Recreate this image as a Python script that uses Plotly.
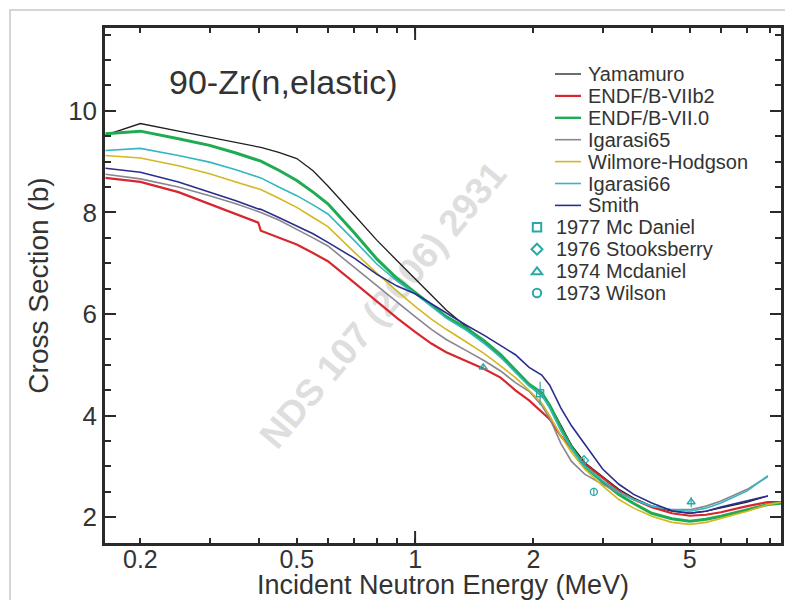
import plotly.graph_objects as go

# ---------------- data ----------------
energy = [0.163, 0.2, 0.25, 0.3, 0.35, 0.399, 0.405, 0.45, 0.5, 0.55, 0.6, 0.7, 0.8, 0.9,
          1.0, 1.1, 1.2, 1.35, 1.5, 1.65, 1.8, 1.95, 2.1, 2.2, 2.35, 2.5, 2.7, 3.0, 3.3,
          3.6, 4.0, 4.5, 5.0, 5.5, 6.0, 7.0, 7.9, 8.6]

yamamuro = [9.52, 9.75, 9.6, 9.48, 9.38, 9.29, 9.28, 9.18, 9.06, 8.82, 8.52, 7.95, 7.45, 7.05,
            6.7, 6.38, 6.08, 5.75, 5.45, 5.15, 4.88, 4.6, 4.38, 4.22, 3.8, 3.42, 3.08, 2.8, 2.55,
            2.38, 2.22, 2.12, 2.08, 2.12, 2.18, 2.3, 2.42, None]
endf_b7b2 = [8.68, 8.6, 8.4, 8.17, 7.98, 7.8, 7.64, 7.5, 7.37, 7.2, 7.04, 6.62, 6.25, 5.92,
             5.65, 5.42, 5.25, 5.07, 4.92, 4.75, 4.5, 4.3, 4.08, 3.93, 3.6, 3.35, 3.05, 2.78, 2.52,
             2.35, 2.2, 2.08, 2.03, 2.05, 2.1, 2.22, 2.3, 2.3]
endf_b70 = [9.55, 9.6, 9.45, 9.32, 9.17, 9.02, 9.01, 8.83, 8.63, 8.4, 8.17, 7.6, 7.08, 6.7,
            6.42, 6.18, 5.95, 5.72, 5.47, 5.2, 4.9, 4.62, 4.45, 4.2, 3.75, 3.38, 3.0, 2.7, 2.45,
            2.27, 2.08, 1.97, 1.92, 1.96, 2.02, 2.15, 2.25, 2.28]
igarasi65 = [8.75, 8.66, 8.5, 8.33, 8.17, 8.01, 8.0, 7.85, 7.67, 7.5, 7.34, 6.92, 6.55, 6.22,
             5.95, 5.7, 5.5, 5.28, 5.08, 4.88, 4.65, 4.48, 4.2, 3.95, 3.45, 3.1, 2.85, 2.65, 2.48,
             2.35, 2.22, 2.15, 2.15, 2.22, 2.32, 2.55, 2.8, None]
wilmore_hodgson = [9.12, 9.07, 8.92, 8.76, 8.6, 8.46, 8.45, 8.28, 8.1, 7.9, 7.72, 7.22, 6.8, 6.45,
                   6.15, 5.9, 5.7, 5.45, 5.22, 4.98, 4.75, 4.5, 4.25, 4.0, 3.6, 3.28, 2.95, 2.62, 2.35,
                   2.18, 2.02, 1.9, 1.86, 1.9, 1.98, 2.12, 2.25, 2.3]
igarasi66 = [9.22, 9.26, 9.12, 8.99, 8.84, 8.69, 8.68, 8.5, 8.33, 8.15, 7.97, 7.45, 6.98, 6.65,
             6.4, 6.15, 5.92, 5.68, 5.42, 5.15, 4.85, 4.58, 4.4, 4.15, 3.7, 3.35, 3.0, 2.72, 2.5,
             2.35, 2.22, 2.15, 2.12, 2.18, 2.28, 2.52, 2.82, None]
smith = [8.87, 8.79, 8.6, 8.4, 8.23, 8.07, 8.06, 7.9, 7.74, 7.58, 7.41, 7.1, 6.78, 6.55,
         6.4, 6.2, 6.02, 5.78, 5.58, 5.38, 5.2, 4.95, 4.8, 4.6, 4.15, 3.8, 3.45, 2.95, 2.65,
         2.45, 2.28, 2.13, 2.08, 2.12, 2.2, 2.32, 2.42, None]

series_names = ["Yamamuro", "ENDF/B-VIIb2", "ENDF/B-VII.0", "Igarasi65",
                "Wilmore-Hodgson", "Igarasi66", "Smith"]
series_values = [yamamuro, endf_b7b2, endf_b70, igarasi65, wilmore_hodgson, igarasi66, smith]

# experimental points: energy, cross section, error
exp_names = ["1977 Mc Daniel", "1976 Stooksberry", "1974 Mcdaniel", "1973 Wilson"]
exp_energy = [[2.08], [2.69], [1.49, 5.04], [2.85]]
exp_sigma = [[4.44], [3.12], [4.95, 2.3], [2.5]]
exp_error = [[0.23], [0.05], [0.04, 0.1], [0.08]]

x_tick_values = [0.2, 0.5, 1, 2, 5]
x_tick_labels = ["0.2", "0.5", "1", "2", "5"]
x_minor_values = [0.3, 0.4, 0.6, 0.7, 0.8, 0.9, 3, 4, 6, 7, 8]

# ---------------- style / geometry ----------------
W, H = 785, 600
ML, MR, MT, MB = 105, 4, 28, 57
PW, PH = W - ML - MR, H - MT - MB


def px(xpix):
    return (xpix - ML) / PW


def py(ypix):
    return (H - MB - ypix) / PH


line_styles = [
    dict(color="#1e1e1e", width=1.3),
    dict(color="#d8262e", width=2.2),
    dict(color="#1eab52", width=3.0),
    dict(color="#8a8590", width=1.6),
    dict(color="#d4b820", width=1.6),
    dict(color="#33b8bf", width=1.6),
    dict(color="#2b2d8c", width=1.6),
]
exp_symbols = ["square-open", "diamond-open", "triangle-up-open", "circle-open"]
exp_color = "#2aa8a8"
FONT = "Liberation Sans, Arial, Helvetica, sans-serif"
TXT = "#333333"
AX = "#2a2a2a"

fig = go.Figure()
for name, vals, st in zip(series_names, series_values, line_styles):
    fig.add_trace(go.Scatter(x=energy, y=vals, mode="lines", name=name, line=st,
                             connectgaps=False, showlegend=False))
for name, ex, ey, ee, sym in zip(exp_names, exp_energy, exp_sigma, exp_error, exp_symbols):
    fig.add_trace(go.Scatter(x=ex, y=ey, mode="markers", name=name, showlegend=False,
                             marker=dict(symbol=sym, size=7, color=exp_color,
                                         line=dict(width=1.4, color=exp_color)),
                             error_y=dict(type="data", array=ee, color=exp_color,
                                          thickness=1.2, width=0)))

axis_common = dict(showline=True, linecolor=AX, linewidth=2.5, mirror="ticks",
                   ticks="inside", tickcolor=AX, tickwidth=2, automargin=False,
                   showgrid=False, zeroline=False)

fig.update_layout(
    width=W, height=H,
    margin=dict(l=ML, r=MR, t=MT, b=MB, autoexpand=False),
    paper_bgcolor="white", plot_bgcolor="white",
    font=dict(family=FONT, color=TXT),
    showlegend=False,
    xaxis=dict(type="log", range=[-0.789, 0.931],
               tickvals=x_tick_values, ticktext=x_tick_labels, ticklen=5,
               ticklabelstandoff=-8,
               tickfont=dict(family=FONT, size=25, color=TXT),
               minor=dict(tickvals=x_minor_values, ticklen=5, tickwidth=2,
                          tickcolor=AX, ticks="inside"),
               title=dict(text="Incident Neutron Energy (MeV)",
                          font=dict(family=FONT, size=27, color=TXT), standoff=2),
               **axis_common),
    yaxis=dict(range=[1.494, 11.63], tick0=0, dtick=2, ticklen=11,
               tickfont=dict(family=FONT, size=26, color=TXT),
               minor=dict(dtick=0.5, ticklen=6, tickwidth=2, tickcolor=AX, ticks="inside"),
               title=dict(text="Cross Section (b)",
                          font=dict(family=FONT, size=28, color=TXT), standoff=12),
               **axis_common),
)

# long tick at the decade (1 MeV) on bottom and top axes
tick_frac = 12 / PH
for y0, y1 in [(0, tick_frac), (1 - tick_frac, 1)]:
    fig.add_shape(type="line", xref="x", yref="paper", x0=1, x1=1, y0=y0, y1=y1,
                  line=dict(color=AX, width=2))

# outer light frame of the original figure
fig.add_shape(type="rect", xref="paper", yref="paper", x0=px(10), x1=px(795),
              y0=py(620), y1=py(10), line=dict(color="#c8c8c8", width=1.5), layer="below")

# watermark (below the curves)
fig.add_shape(type="rect", xref="paper", yref="paper", x0=px(350), x1=px(410),
              y0=py(330), y1=py(275), line=dict(width=0), layer="below",
              label=dict(text="NDS 107 (2006) 2931", textangle=-50,
                         textposition="middle center",
                         font=dict(family=FONT, size=37, color="#dedede", weight="bold")))

# chart title inside the plot
fig.add_annotation(text="90-Zr(n,elastic)", xref="paper", yref="paper",
                   x=px(167), y=py(82), xanchor="left", yanchor="middle", showarrow=False,
                   font=dict(family=FONT, size=34, color=TXT))

# legend, drawn manually to match the original compact layout
row0, row_gap = 74, 21.9
for i, (name, st) in enumerate(zip(series_names, line_styles)):
    yy = row0 + i * row_gap
    fig.add_shape(type="line", xref="paper", yref="paper", x0=px(555), x1=px(581),
                  y0=py(yy), y1=py(yy), line=dict(color=st["color"], width=min(st["width"], 2.4)))
    fig.add_annotation(text=name, xref="paper", yref="paper", x=px(586), y=py(yy),
                       xanchor="left", yanchor="middle", showarrow=False,
                       font=dict(family=FONT, size=20, color=TXT))

mk = 4.2  # half size of legend symbols in px
cx = 537
for j, name in enumerate(exp_names):
    yy = row0 + (len(series_names) + j) * row_gap
    sym_line = dict(color=exp_color, width=2)
    if j == 0:
        fig.add_shape(type="rect", xref="paper", yref="paper", x0=px(cx - mk), x1=px(cx + mk),
                      y0=py(yy + mk), y1=py(yy - mk), line=sym_line)
    elif j == 1:
        d = mk * 1.3
        path = (f"M {px(cx - d)},{py(yy)} L {px(cx)},{py(yy - d)} L {px(cx + d)},{py(yy)} "
                f"L {px(cx)},{py(yy + d)} Z")
        fig.add_shape(type="path", xref="paper", yref="paper", path=path, line=sym_line)
    elif j == 2:
        d = mk * 1.25
        path = (f"M {px(cx - d)},{py(yy + d * 0.6)} L {px(cx)},{py(yy - d * 0.7)} "
                f"L {px(cx + d)},{py(yy + d * 0.6)} Z")
        fig.add_shape(type="path", xref="paper", yref="paper", path=path, line=sym_line)
    else:
        fig.add_shape(type="circle", xref="paper", yref="paper", x0=px(cx - mk), x1=px(cx + mk),
                      y0=py(yy + mk), y1=py(yy - mk), line=sym_line)
    fig.add_annotation(text=name, xref="paper", yref="paper", x=px(554), y=py(yy),
                       xanchor="left", yanchor="middle", showarrow=False,
                       font=dict(family=FONT, size=20, color=TXT))

fig.write_html("out.html", config={"displayModeBar": False},
               post_script="document.body.style.margin='0px';"
                           "document.body.style.overflow='hidden';")
